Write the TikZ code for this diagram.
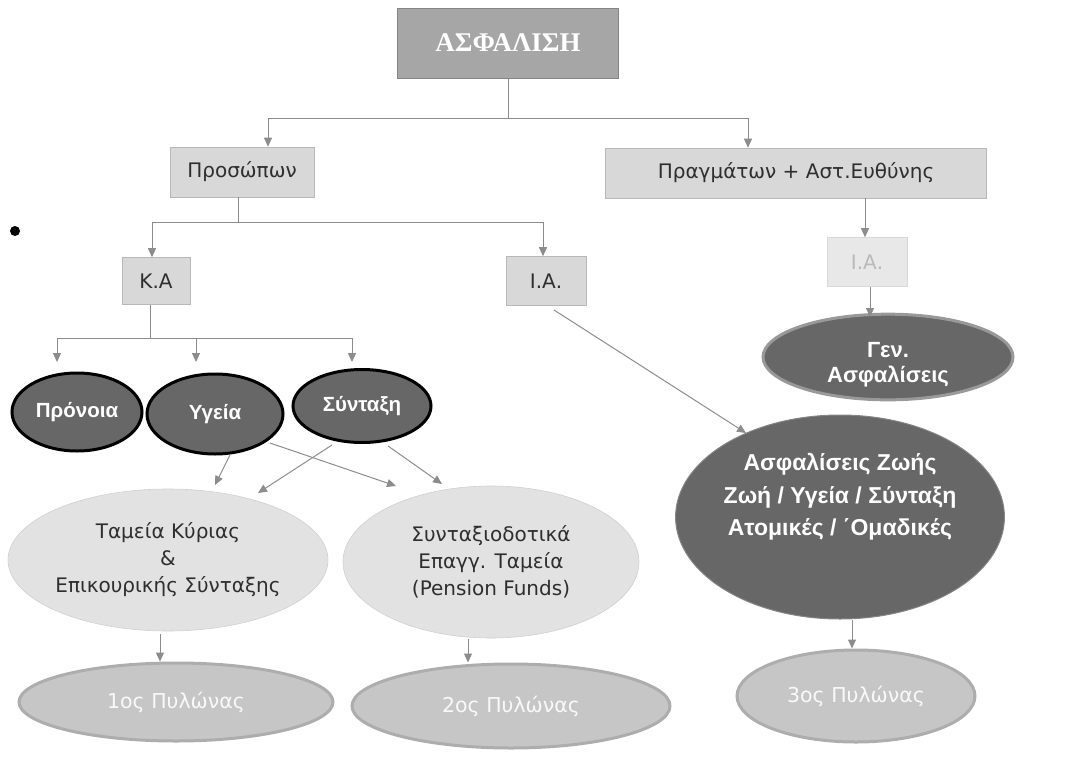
\documentclass[tikz,border=0pt]{standalone}
\usepackage{fontspec}
\setmainfont{DejaVu Sans}
\newfontfamily\boldsans{Liberation Sans}
\newfontfamily\titleserif{Liberation Serif}
\usetikzlibrary{shapes.geometric,arrows.meta}
\definecolor{boxgray}{HTML}{D8D8D8}
\definecolor{topgray}{HTML}{A6A6A6}
\definecolor{darkfill}{HTML}{676767}
\definecolor{lightfill}{HTML}{E2E2E2}
\definecolor{pillarfill}{HTML}{C6C6C6}
\definecolor{pillarline}{HTML}{ADADAD}
\definecolor{linegray}{HTML}{8C8C8C}
\definecolor{textdark}{HTML}{2E2E2E}
\tikzset{
  rectbox/.style={rectangle, fill=boxgray, draw=boxgray!85!black, line width=0.6pt, inner sep=0pt, text=textdark, font=\fontsize{20}{24}\selectfont},
  darkell/.style={ellipse, fill=darkfill, draw=black, line width=3pt, inner sep=0pt, text=white, font=\boldsans\bfseries\fontsize{20.5}{24}\selectfont},
  lightell/.style={ellipse, fill=lightfill, draw=lightfill!92!black, line width=0.6pt, inner sep=0pt, text=textdark, align=center, font=\fontsize{20}{27}\selectfont},
  pillar/.style={ellipse, fill=pillarfill, draw=pillarline, line width=3pt, inner sep=0pt, text=white!95!gray, font=\fontsize{20.5}{24}\selectfont},
  conn/.style={draw=linegray, line width=1pt},
  arr/.style={conn, -{Triangle[width=8pt,length=9pt]}},
}
\begin{document}
\begin{tikzpicture}[x=1pt,y=-1pt]
\useasboundingbox (0,0) rectangle (1069,774);
% title
\node[rectangle, fill=topgray, draw=topgray!80!black, line width=1pt, minimum width=221pt, minimum height=70pt, inner sep=0pt, text=white, font=\titleserif\bfseries\fontsize{27}{30}\selectfont] (top) at (508,43) {ΑΣΦΑΛΙΣΗ};
% level 2
\node[rectbox, minimum width=144pt, minimum height=50pt] (pros) at (242,172) {Προσώπων};
\node[rectbox, minimum width=381pt, minimum height=50pt] (pragm) at (796,173) {Πραγμάτων + Αστ.Ευθύνης};
% level 3
\node[rectbox, minimum width=68pt, minimum height=47pt] (ka) at (156,281) {Κ.Α};
\node[rectbox, minimum width=80pt, minimum height=49pt] (ia) at (546,281) {Ι.Α.};
\node[rectbox, fill=boxgray!60!white, draw=boxgray, text=gray!55!white, minimum width=80pt, minimum height=49pt] (ia2) at (867,262) {Ι.Α.};
% dark ellipses
\node[darkell, minimum width=130pt, minimum height=78pt] (pronoia) at (77,412) {Πρόνοια};
\node[darkell, minimum width=136pt, minimum height=80pt] (ygeia) at (215,414) {Υγεία};
\node[darkell, minimum width=138pt, minimum height=73pt] (syntaxi) at (362,406) {Σύνταξη};
\node[darkell, draw=gray!80!white, line width=3pt, minimum width=250pt, minimum height=81pt, align=center, font=\boldsans\bfseries\fontsize{22}{25}\selectfont] (gen) at (888,357) {\rule{0pt}{31pt}Γεν.\\Ασφαλίσεις};
\node[darkell, draw=darkfill!80!white, line width=1pt, minimum width=316pt, minimum height=204pt, align=center, font=\boldsans\bfseries\fontsize{23}{32.5}\selectfont] (zoi) at (840,517) {Ασφαλίσεις Ζωής\\Ζωή / Υγεία / Σύνταξη\\Ατομικές / ΄Ομαδικές\\[12pt]};
% light ellipses
\node[lightell, minimum width=320pt, minimum height=142pt] (tameia) at (168,560) {Ταμεία Κύριας\\\&\\Επικουρικής Σύνταξης};
\node[lightell, minimum width=296pt, minimum height=152pt] (epag) at (491,562) {Συνταξιοδοτικά\\Επαγγ. Ταμεία\\(Pension Funds)};
% pillars
\node[pillar, minimum width=314pt, minimum height=78pt] (p1) at (176,702) {1ος Πυλώνας};
\node[pillar, minimum width=318pt, minimum height=84pt] (p2) at (511,706) {2ος Πυλώνας};
\node[pillar, minimum width=238pt, minimum height=92pt] (p3) at (856,696) {3ος Πυλώνας};
% bullet
\node[circle, fill=black, minimum size=10pt, inner sep=0pt] (bullet) at (15,231) {};
% connectors from title
\coordinate (j1) at (508,118);
\coordinate (j1l) at (268,118);
\coordinate (j1r) at (748,118);
\draw[conn] (top.south) -- (j1);
\draw[conn] (j1l) -- (j1r);
\draw[arr] (j1l) -- (j1l |- pros.north);
\draw[arr] (j1r) -- (j1r |- pragm.north);
% from Προσώπων
\coordinate (j2a) at (238,197);
\coordinate (j2) at (238,222);
\coordinate (j2l) at (152,222);
\coordinate (j2r) at (543,222);
\draw[conn] (j2a) -- (j2);
\draw[conn] (j2l) -- (j2r);
\draw[arr] (j2l) -- (j2l |- ka.north);
\draw[arr] (j2r) -- (j2r |- ia.north);
% from Κ.Α
\coordinate (j3a) at (150,305);
\coordinate (j3) at (150,338);
\coordinate (j3l) at (57,338);
\coordinate (j3m) at (196,338);
\coordinate (j3r) at (352,338);
\coordinate (e1) at (57,362);
\coordinate (e2) at (196,362);
\coordinate (e3) at (352,362);
\draw[conn] (j3a) -- (j3);
\draw[conn] (j3l) -- (j3r);
\draw[arr] (j3l) -- (e1);
\draw[arr] (j3m) -- (e2);
\draw[arr] (j3r) -- (e3);
% right branch
\coordinate (r1) at (865,198);
\coordinate (r2) at (870,287);
\draw[arr] (r1) -- (r1 |- ia2.north);
\draw[arr] (r2) -- (870,317);
% Ι.Α. to Ζωής
\coordinate (ia_out) at (554,310);
\coordinate (zoi_in) at (746,433);
\draw[arr] (ia_out) -- (zoi_in);
% crossing arrows
\coordinate (y1) at (230,455);
\coordinate (y2) at (270,443);
\coordinate (s1) at (332,445);
\coordinate (s2) at (388,446);
\coordinate (t1) at (215,485);
\coordinate (t2) at (258,493);
\coordinate (q1) at (396,486);
\coordinate (q2) at (442,484);
\draw[arr] (y1) -- (t1);
\draw[arr] (y2) -- (q1);
\draw[arr] (s1) -- (t2);
\draw[arr] (s2) -- (q2);
% to pillars
\coordinate (a1) at (160,634);
\coordinate (a2) at (468,639);
\coordinate (a3) at (852,620);
\draw[arr] (a1) -- (a1 |- p1.north);
\draw[arr] (a2) -- (a2 |- p2.north);
\draw[arr] (a3) -- (a3 |- p3.north);
\end{tikzpicture}
\end{document}
